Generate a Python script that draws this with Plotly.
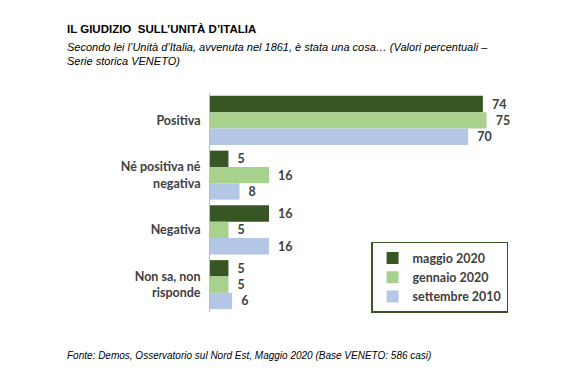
import plotly.graph_objects as go

categories = ["Positiva", "Né positiva né<br>negativa", "Negativa", "Non sa, non<br>risponde"]
series_names = ["maggio 2020", "gennaio 2020", "settembre 2010"]
maggio_2020 = [74, 5, 16, 5]
gennaio_2020 = [75, 16, 5, 5]
settembre_2010 = [70, 8, 16, 6]
colors = ["#375623", "#A9D18E", "#B4C7E7"]

fig = go.Figure()
for i, (name, vals) in enumerate(zip(series_names, [maggio_2020, gennaio_2020, settembre_2010])):
    fig.add_trace(go.Bar(
        y=categories, x=vals, name=name, orientation="h",
        marker=dict(color=colors[i], line=dict(width=0)),
        text=["\u00a0\u00a0" + str(v) for v in vals], textposition="outside",
        constraintext="none",
        textfont=dict(family="Lato", size=12.5, color="#404040", weight="bold"),
        cliponaxis=False, legendgroup=name,
    ))

fig.update_layout(
    width=575, height=380,
    paper_bgcolor="white", plot_bgcolor="white",
    margin=dict(l=202, r=78, t=85, b=76),
    barmode="group", bargap=0.105, bargroupgap=0,
    uniformtext=dict(mode=False),
    xaxis=dict(range=[0, 80], visible=False, fixedrange=True),
    yaxis=dict(autorange="reversed", showline=True, linecolor="#BFBFBF", linewidth=1,
               ticks="", ticklen=0, showgrid=False,
               tickfont=dict(family="Lato", size=12.5, color="#404040", weight="bold"),
               ticklabelstandoff=6),
    showlegend=True,
    legend=dict(x=0.546, y=0.32, xanchor="left", yanchor="top",
                bordercolor="#375623", borderwidth=1.5, bgcolor="white",
                font=dict(family="Lato", size=12.5, color="#404040", weight="bold"),
                traceorder="normal", tracegroupgap=12, itemwidth=30),
    font=dict(family="Liberation Sans"),
)

fig.add_annotation(text="<b>IL GIUDIZIO  SULL’UNITÀ D’ITALIA</b>", xref="paper", yref="paper",
                   x=-0.492, y=1.29, xanchor="left", yanchor="middle", showarrow=False,
                   font=dict(family="Liberation Sans", size=11.5, color="black"))
fig.add_annotation(text="<i>Secondo lei l’Unità d’Italia, avvenuta nel 1861, è stata una cosa… (Valori percentuali –<br>Serie storica VENETO)</i>",
                   xref="paper", yref="paper", x=-0.492, y=1.245, xanchor="left", yanchor="top",
                   align="left", showarrow=False,
                   font=dict(family="Liberation Sans", size=11, color="black"))
fig.add_annotation(text="<i>Fonte: Demos, Osservatorio sul Nord Est, Maggio 2020 (Base VENETO: 586 casi)</i>",
                   xref="paper", yref="paper", x=-0.492, y=-0.2, xanchor="left", yanchor="middle",
                   showarrow=False, font=dict(family="Liberation Sans", size=10, color="black"))

fig.write_html("out.html")
